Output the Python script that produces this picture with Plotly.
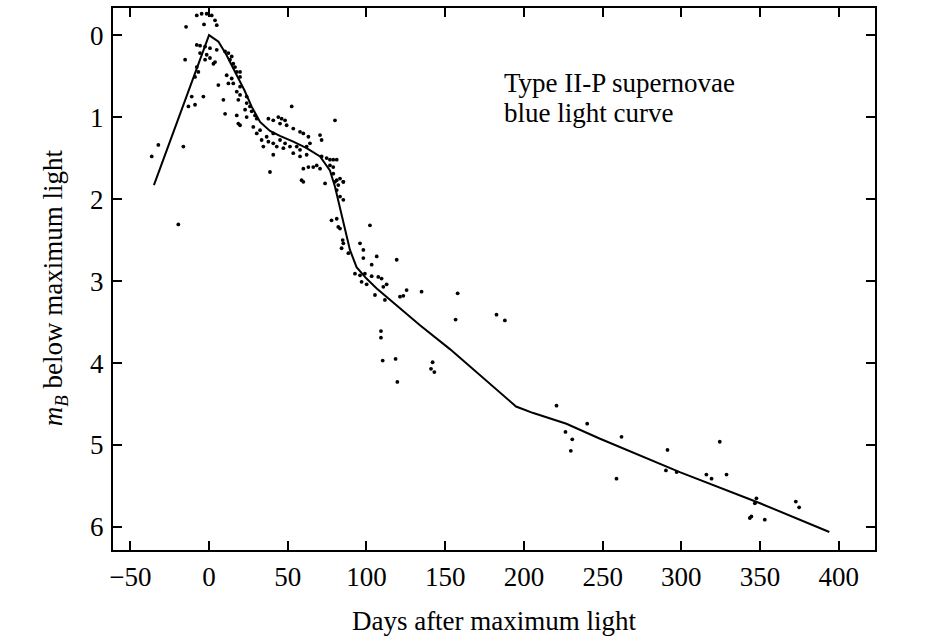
import plotly.graph_objects as go

# Light curve (smooth fit) — days after maximum, magnitudes below maximum
curve_days = [-35, 0, 6, 11, 17.6, 22.4, 27, 32.4, 38.7, 45, 53.5, 62, 70.5, 76.8, 80, 83.2,
              86.3, 89.5, 93.7, 100, 106.5, 121, 134, 153, 174, 195, 206, 227, 248, 299, 350, 394]
curve_mag = [1.83, 0.0, 0.08, 0.24, 0.49, 0.67, 0.87, 1.06, 1.17, 1.23, 1.30, 1.38, 1.48, 1.65, 1.85, 2.10,
             2.38, 2.62, 2.83, 2.97, 3.09, 3.33, 3.54, 3.83, 4.18, 4.53, 4.61, 4.74, 4.92, 5.33, 5.71, 6.06]

# Observations
obs_days = [-7.8, -4.7, -1.5, 1.7, 3.8, 4.9, -3.2, -14.6,
            -7.8, -5.7, -2.5, 0.6, 4.9, -5.7, -1.5, 0.6, 3.8, 2.8, -2.5, -15.2, -7.8, -6.8, -8.9,
            10.2, 12.3, 14.4, 13.3, 15.4, 16.5, 17.6, 19.7, 11.2, 14.4, 19.7, 12.3, 15.4, 19.7, 5.9,
            17.6, 19.7, 23.9, 18.6, 23.9, 26.0, 22.9, 27.1, 29.2, 17.6, 23.9, 30.3, 10.2, 9.1, -3.6,
            -11.0, -13.1, -8.9, 18.6, 19.7, 28.1, 32.4, 30.3, 36.6, 40.8, 37.7, 40.8, 44.0, 46.1, 48.3,
            45.1, 49.3, 52.5, 53.5, 57.8, 59.9, 63.1, 70.5, 71.5, 33.4, 37.7, 40.8, 45.1, 48.3, 51.4,
            55.7, 57.8, 62.0, 64.1, 34.5, 40.8, 43.0, 47.2, 53.5, 57.8, 62.0, 71.5, 74.7, 76.8, 78.9,
            81.1, 68.4, 63.1, 76.8, 70.5, 66.2, 59.9, 78.9, 83.2, 80.0, 82.1, 85.3, 78.9, 38.7, 80.0,
            -36.4, -32.2, -16.3,
            58.8, 59.9, 73.7, 81.1, 85.3, 81.1, 83.2, 85.3, 77.8, 81.1, 82.1, 83.2, 102.2, 84.9, 85.3,
            84.2, 88.5, 95.9, 98.0, 98.0, 106.5, 119.2, 103.3, 92.7, 95.9, 99.0, 103.3, 107.5, 109.6,
            96.9, 100.1, 112.8, 110.7, 105.4, 111.7, 121.3, 125.5, 135.0, 109.2, 109.2, -19.5,
            123.4, 157.9, 182.6, 187.9, 156.6, 110.3, 118.5, 142.0, 141.0, 143.1, 119.6,
            220.7, 240.2, 226.4, 230.7, 229.8, 262.0, 258.8, 291.2, 290.2, 297.0, 324.4, 315.9, 319.2,
            328.7, 347.7, 346.7, 343.5, 344.5, 353.0, 372.7, 374.8]
obs_mag = [-0.24, -0.26, -0.26, -0.24, -0.18, -0.12, -0.13, -0.10,
           0.12, 0.13, 0.14, 0.16, 0.18, 0.22, 0.24, 0.28, 0.33, 0.35, 0.30, 0.30, 0.39, 0.45, 0.51,
           0.20, 0.22, 0.26, 0.30, 0.35, 0.39, 0.45, 0.45, 0.49, 0.53, 0.51, 0.59, 0.59, 0.63, 0.61,
           0.69, 0.73, 0.75, 0.79, 0.83, 0.87, 0.91, 0.93, 0.98, 0.98, 1.00, 1.02, 0.96, 0.79, 0.75,
           0.75, 0.87, 0.85, 1.08, 1.10, 1.12, 1.16, 1.20, 1.24, 1.20, 1.02, 1.04, 1.00, 1.02, 1.04,
           1.08, 1.10, 0.87, 1.14, 1.18, 1.20, 1.24, 1.22, 1.28, 1.28, 1.30, 1.32, 1.28, 1.32, 1.36,
           1.36, 1.40, 1.36, 1.32, 1.36, 1.46, 1.36, 1.38, 1.44, 1.48, 1.46, 1.48, 1.50, 1.52, 1.52,
           1.52, 1.59, 1.61, 1.59, 1.63, 1.61, 1.63, 1.69, 1.75, 1.79, 1.83, 1.79, 1.61, 1.67, 1.04,
           1.48, 1.34, 1.36,
           1.77, 1.79, 1.81, 1.77, 1.79, 1.89, 1.97, 2.01, 2.26, 2.24, 2.34, 2.36, 2.32, 2.50, 2.54,
           2.60, 2.66, 2.54, 2.62, 2.72, 2.70, 2.74, 2.80, 2.91, 2.93, 2.91, 2.94, 2.95, 2.97,
           3.01, 3.04, 3.04, 3.07, 3.17, 3.23, 3.19, 3.11, 3.13, 3.61, 3.69, 2.31,
           3.18, 3.15, 3.41, 3.48, 3.47, 3.97, 3.95, 3.99, 4.07, 4.11, 4.23,
           4.52, 4.74, 4.84, 4.93, 5.07, 4.90, 5.41, 5.06, 5.31, 5.33, 4.96, 5.36, 5.41,
           5.36, 5.65, 5.71, 5.89, 5.87, 5.91, 5.69, 5.76]

x_ticks = [-50, 0, 50, 100, 150, 200, 250, 300, 350, 400]
y_ticks = [0, 1, 2, 3, 4, 5, 6]
label_lines = ["Type II-P supernovae", "blue light curve"]
x_title = "Days after maximum light"
y_title = "<i>m<sub>B</sub></i> below maximum light"

SERIF = "Liberation Serif"
FS = 27

fig = go.Figure()
fig.add_trace(go.Scatter(x=obs_days, y=obs_mag, mode="markers",
                         marker=dict(color="black", size=3.8, symbol="circle"),
                         showlegend=False, hoverinfo="skip"))
fig.add_trace(go.Scatter(x=curve_days, y=curve_mag, mode="lines",
                         line=dict(color="black", width=2),
                         showlegend=False, hoverinfo="skip"))

for i, line in enumerate(label_lines):
    fig.add_annotation(x=186, y=0.58 + 0.37 * i, xref="x", yref="y", xanchor="left", yanchor="middle",
                       text=line, showarrow=False, align="left",
                       font=dict(family=SERIF, size=FS, color="black"))

# rotated y-axis title, placed like the original (slightly below plot centre)
fig.add_annotation(x=-0.076, y=0.483, xref="paper", yref="paper", xanchor="center", yanchor="middle",
                   text=y_title, textangle=-90, showarrow=False,
                   font=dict(family=SERIF, size=FS, color="black"))

axis_common = dict(showline=True, linecolor="black", linewidth=2, mirror="ticks",
                   ticks="inside", ticklen=9, tickwidth=2, tickcolor="black",
                   showgrid=False, zeroline=False,
                   tickfont=dict(family=SERIF, size=FS, color="black"))

fig.update_xaxes(range=[-61, 423], tickvals=x_ticks, ticklabelstandoff=2,
                 title=dict(text=x_title,
                            font=dict(family=SERIF, size=FS, color="black"), standoff=20),
                 **axis_common)
fig.update_yaxes(range=[6.28, -0.33], tickvals=y_ticks, ticklabelstandoff=2,
                 **axis_common)

fig.update_layout(width=951, height=639, margin=dict(l=113, r=76, t=8, b=89, autoexpand=False),
                  plot_bgcolor="white", paper_bgcolor="white",
                  font=dict(family=SERIF, color="black"))

fig.write_html("out.html")
